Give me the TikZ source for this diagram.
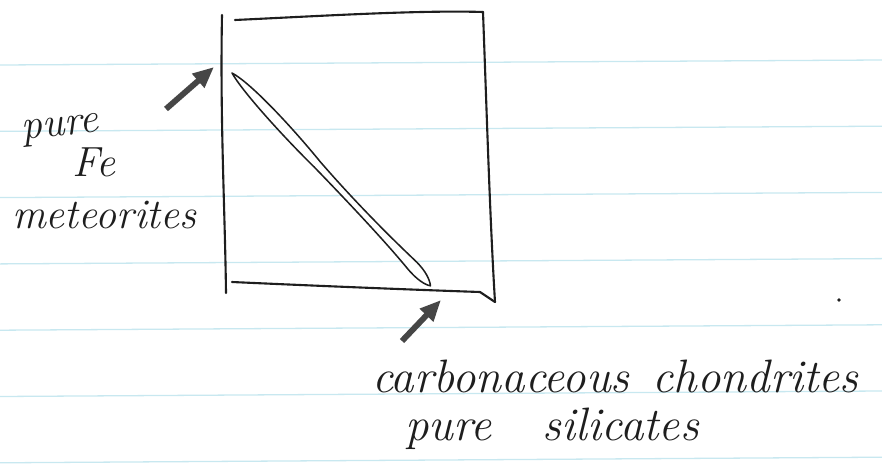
\documentclass[tikz,border=0pt]{standalone}
\usetikzlibrary{arrows.meta}
\definecolor{ruleblue}{RGB}{200,232,240}
\definecolor{ink}{RGB}{30,30,30}
\definecolor{pencil}{RGB}{70,70,70}
\begin{document}
\begin{tikzpicture}[x=0.03cm,y=-0.03cm,
  rule/.style={ruleblue, line width=1.1pt},
  pen/.style={ink, line width=1.8pt, line cap=round, line join=round},
  push/.style={pencil, line width=5pt, -{Triangle[length=18pt,width=15pt]}},
  hand/.style={ink, font=\fontsize{36}{42}\selectfont\itshape, inner sep=0pt, anchor=base west},
  bighand/.style={hand, font=\fontsize{40}{46}\selectfont\itshape}]
\useasboundingbox (0,0) rectangle (882,476);
\clip (0,0) rectangle (882,476);
\fill[white] (0,0) rectangle (882,476);
\foreach \k in {-1,...,6}
  \draw[rule] (0,{65+66.3*\k}) -- (882,{60+66.2*\k});

% the plot frame
\draw[pen] (222,15) .. controls (220,120) and (225,210) .. (226,293);
\draw[pen] (235,20) .. controls (320,16) and (420,10) .. (483,12);
\draw[pen] (483,12) .. controls (487,120) and (490,220) .. (495,302);
\draw[pen] (232,282) .. controls (320,286) and (420,290) .. (480,292) -- (495,302);

% the narrow band
\begin{scope}[shift={(232,73)}, rotate=-47]
\draw[pen, line width=1.3pt, fill=white]
  (0,0) .. controls (20,-7) and (80,-7) .. (125,-4)
  .. controls (180,-2) and (230,-4) .. (262,-6)
  .. controls (278,-7) and (287,-3) .. (291,0)
  .. controls (287,3) and (278,6) .. (262,5)
  .. controls (230,3) and (180,3) .. (125,4)
  .. controls (80,6) and (20,5) .. (0,0) -- cycle;
\end{scope}

% labels
\node[hand, rotate=6] (pure) at (22,140) {pure};
\node[hand] (fe) at (72,176) {Fe};
\node[hand] (meteor) at (12,228) {meteorites};
\node[bighand] (carbon) at (372,392) {carbonaceous\hspace{0.5em}chondrites};
\node[bighand] (silic) at (405,440) {pure\hspace{1.1em}silicates};

% arrows
\coordinate (feTail) at (166,109);
\coordinate (feTip) at (214,67);
\coordinate (siTail) at (402,341);
\coordinate (siTip) at (441,300);
\draw[push] (feTail) -- (feTip);
\draw[push] (siTail) -- (siTip);

\fill[ink] (839,300) circle (1.6pt);
\end{tikzpicture}
\end{document}
